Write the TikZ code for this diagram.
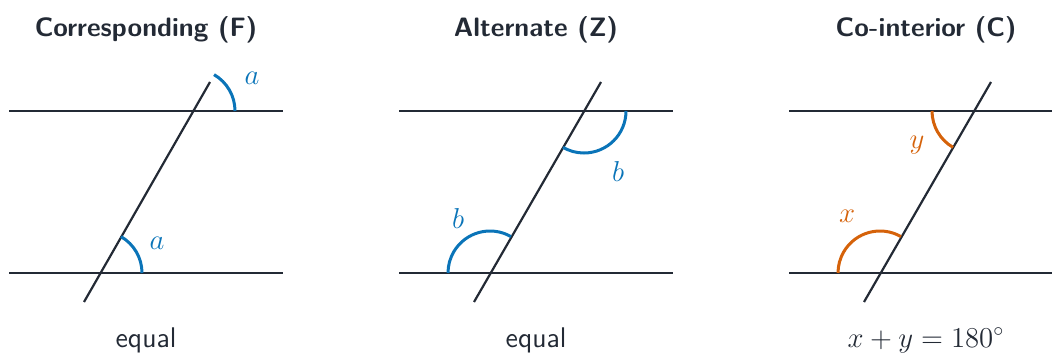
\documentclass[tikz,border=0pt]{standalone}
\definecolor{ink}{HTML}{232A35}
\definecolor{angblue}{HTML}{0A74B8}
\definecolor{angorange}{HTML}{D5620A}
\begin{document}
\begin{tikzpicture}[x=0.5pt, y=0.5pt]
  \tikzset{
    rail/.style={draw=ink, line width=1.1pt},
    ang/.style={line width=1.5pt},
    title/.style={font=\sffamily\bfseries\fontsize{13.3}{16}\selectfont, text=ink, anchor=base},
    rule/.style={font=\fontsize{14.2}{17}\selectfont, text=ink, anchor=base},
    lbl/.style={font=\fontsize{13.5}{15}\selectfont, inner sep=0pt},
  }
  \useasboundingbox (0,0) rectangle (1052,353);

  % Corresponding
  \node[title] (f-head) at (146,316) {Corresponding (F)};
  \coordinate (f-tl) at (9,242);   \coordinate (f-tr) at (283,242);
  \coordinate (f-bl) at (9,80);    \coordinate (f-br) at (283,80);
  \coordinate (f-top) at (193,242); \coordinate (f-bot) at (100,80);
  \coordinate (f-hi) at (210,271);  \coordinate (f-lo) at (84,51);
  \draw[rail] (f-tl) -- (f-tr);
  \draw[rail] (f-bl) -- (f-br);
  \draw[rail] (f-lo) -- (f-hi);
  \draw[ang, angblue] ([shift={(21pt,0)}]f-top) arc[start angle=0, end angle=60, radius=21pt];
  \draw[ang, angblue] ([shift={(21pt,0)}]f-bot) arc[start angle=0, end angle=60, radius=21pt];
  \node[lbl, text=angblue] (f-a1) at ([shift={(59,33)}]f-top) {$a$};
  \node[lbl, text=angblue] (f-a2) at ([shift={(57,30)}]f-bot) {$a$};
  \node[rule] (f-rule) at (146,6) {\sffamily equal};

  % Alternate
  \node[title] (z-head) at (536,316) {Alternate (Z)};
  \coordinate (z-tl) at (399,242);  \coordinate (z-tr) at (673,242);
  \coordinate (z-bl) at (399,80);   \coordinate (z-br) at (673,80);
  \coordinate (z-top) at (584,242); \coordinate (z-bot) at (490,80);
  \coordinate (z-hi) at (601,271);  \coordinate (z-lo) at (474,51);
  \draw[rail] (z-tl) -- (z-tr);
  \draw[rail] (z-bl) -- (z-br);
  \draw[rail] (z-lo) -- (z-hi);
  \draw[ang, angblue] ([shift={(21pt,0)}]z-top) arc[start angle=0, end angle=-120, radius=21pt];
  \draw[ang, angblue] ([shift={(60:21pt)}]z-bot) arc[start angle=60, end angle=180, radius=21pt];
  \node[lbl, text=angblue] (z-b1) at ([shift={(34,-61)}]z-top) {$b$};
  \node[lbl, text=angblue] (z-b2) at ([shift={(-32,54)}]z-bot) {$b$};
  \node[rule] (z-rule) at (536,6) {\sffamily equal};

  % Co-interior
  \node[title] (c-head) at (926,316) {Co-interior (C)};
  \coordinate (c-tl) at (789,242);  \coordinate (c-tr) at (1063,242);
  \coordinate (c-bl) at (789,80);   \coordinate (c-br) at (1063,80);
  \coordinate (c-top) at (974,242); \coordinate (c-bot) at (880,80);
  \coordinate (c-hi) at (991,271);  \coordinate (c-lo) at (864,51);
  \draw[rail] (c-tl) -- (c-tr);
  \draw[rail] (c-bl) -- (c-br);
  \draw[rail] (c-lo) -- (c-hi);
  \draw[ang, angorange] ([shift={(-21pt,0)}]c-top) arc[start angle=180, end angle=240, radius=21pt];
  \draw[ang, angorange] ([shift={(60:21pt)}]c-bot) arc[start angle=60, end angle=180, radius=21pt];
  \node[lbl, text=angorange] (c-y) at ([shift={(-57,-34)}]c-top) {$y$};
  \node[lbl, text=angorange] (c-x) at ([shift={(-33,57)}]c-bot) {$x$};
  \node[rule] (c-rule) at (926,6) {$x+y=180^\circ$};
\end{tikzpicture}
\end{document}
